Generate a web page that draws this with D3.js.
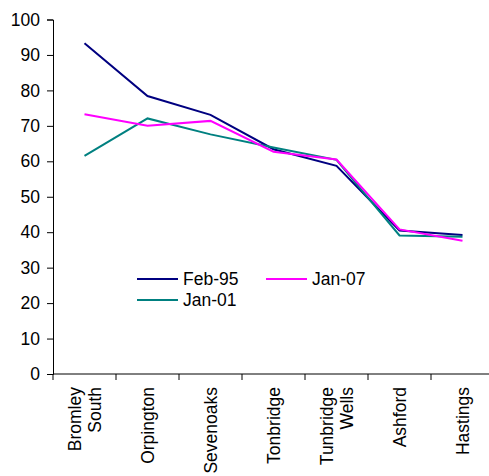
<!DOCTYPE html>
<html>
<head>
<meta charset="utf-8">
<script src="https://cdn.jsdelivr.net/npm/d3@7"></script>
<style>
  body { margin: 0; background: #fff; }
  text { font-family: "Liberation Sans", Arial, sans-serif; fill: #000; }
</style>
</head>
<body>
<div id="chart"></div>
<script>
/**
 * Data
 */
const stations = ["Bromley South", "Orpington", "Sevenoaks", "Tonbridge", "Tunbridge Wells", "Ashford", "Hastings"];
const feb95 = [93.3, 78.4, 73.1, 63.4, 58.7, 40.5, 39.2];
const jan01 = [61.5, 72.1, 67.6, 63.9, 60.4, 39.1, 38.7];
const jan07 = [73.3, 70.0, 71.4, 62.7, 60.5, 40.8, 37.6];
const yTicks = [0, 10, 20, 30, 40, 50, 60, 70, 80, 90, 100];

const series = [
  { name: "Feb-95", values: feb95, color: "#000080" },
  { name: "Jan-01", values: jan01, color: "#008080" },
  { name: "Jan-07", values: jan07, color: "#FF00FF" }
];

const width = 489, height = 476,
  fontSize = "17.5px",
  margin = { top: 19.5, left: 53, right: -5, bottom: 102 };

const svg = d3.select("#chart")
  .append("svg")
  .attr("width", width)
  .attr("height", height);

// scales
const xScale = d3.scaleBand()
  .domain(stations)
  .range([margin.left, width - margin.right]);

const yScale = d3.scaleLinear()
  .domain([0, 100])
  .range([height - margin.bottom, margin.top]);

// y axis
const yAxis = d3.axisLeft(yScale).tickValues(yTicks).tickSize(6).tickPadding(7);
svg.append("g")
  .attr("transform", `translate(${margin.left},0)`)
  .call(yAxis)
  .call(g => g.selectAll("text").style("font-size", fontSize).attr("fill", "#000"))
  .call(g => g.selectAll("line, path").attr("stroke", "#000"));

// x axis - ticks sit on category boundaries
const xAxisG = svg.append("g")
  .attr("transform", `translate(0,${height - margin.bottom})`);
xAxisG.append("line")
  .attr("x1", margin.left).attr("x2", width)
  .attr("stroke", "#000");
xAxisG.selectAll("line.tick")
  .data(stations)
  .join("line")
  .attr("class", "tick")
  .attr("x1", d => xScale(d)).attr("x2", d => xScale(d))
  .attr("y1", 0).attr("y2", 6)
  .attr("stroke", "#000");

// rotated category labels (long names go on two lines)
xAxisG.selectAll("text.cat")
  .data(stations)
  .join("text")
  .attr("class", "cat")
  .attr("text-anchor", "end")
  .style("font-size", fontSize)
  .attr("transform", d => `translate(${xScale(d) + xScale.bandwidth() / 2},13) rotate(-90)`)
  .each(function (d) {
    const words = d.split(" ");
    const n = words.length;
    d3.select(this).selectAll("tspan")
      .data(words)
      .join("tspan")
      .attr("x", 0)
      .attr("y", (w, i) => (i - (n - 1) / 2) * 20 + 6)
      .text(w => w);
  });

// lines
const lineFunc = d3.line()
  .x((d, i) => xScale(stations[i]) + xScale.bandwidth() / 2)
  .y(d => yScale(d));

svg.selectAll("path.trend")
  .data(series)
  .join("path")
  .attr("class", "trend")
  .attr("fill", "none")
  .attr("stroke", d => d.color)
  .attr("stroke-width", 2)
  .attr("d", d => lineFunc(d.values));

// legend
const legendPos = [
  { x: 137, y: 279 },  // Feb-95
  { x: 137, y: 300 },  // Jan-01
  { x: 266, y: 279 }   // Jan-07
];
const legend = svg.selectAll("g.legend")
  .data(series)
  .join("g")
  .attr("class", "legend")
  .attr("transform", (d, i) => `translate(${legendPos[i].x},${legendPos[i].y})`);
legend.append("line")
  .attr("x1", 0).attr("x2", 41)
  .attr("stroke", d => d.color)
  .attr("stroke-width", 2);
legend.append("text")
  .attr("x", 46)
  .attr("y", 6)
  .style("font-size", fontSize)
  .text(d => d.name);
</script>
</body>
</html>
